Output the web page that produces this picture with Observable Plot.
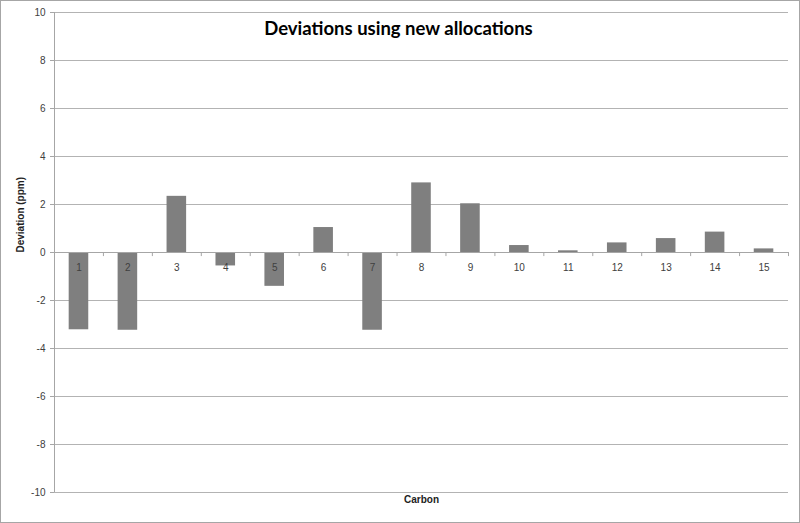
<!DOCTYPE html>
<html>
<head>
<meta charset="utf-8">
<script src="https://cdn.jsdelivr.net/npm/d3@7"></script>
<script src="https://cdn.jsdelivr.net/npm/@observablehq/plot@0.6"></script>
<style>
  html, body { margin: 0; padding: 0; background: #fff; }
  svg { display: block; outline: 1px solid #a6a6a6; outline-offset: -1px; }
</style>
</head>
<body>
<div id="chart"></div>
<script>
const carbons = ["1","2","3","4","5","6","7","8","9","10","11","12","13","14","15"];
const deviations = [-3.22, -3.24, 2.34, -0.56, -1.41, 1.04, -3.24, 2.90, 2.03, 0.29, 0.07, 0.40, 0.58, 0.85, 0.15];
const yTicks = [-10, -8, -6, -4, -2, 0, 2, 4, 6, 8, 10];
const title = "Deviations using new allocations";
const xTitle = "Carbon";
const yTitle = "Deviation (ppm)";

const data = carbons.map((c, i) => ({carbon: c, value: deviations[i]}));

const W = 800, H = 523;
const mL = 54, mR = 12, mT = 12, mB = 31;
const step = (W - mL - mR) / carbons.length;
const font = "'Liberation Sans', Arial, sans-serif";

const chart = Plot.plot({
  width: W,
  height: H,
  marginLeft: mL,
  marginRight: mR,
  marginTop: mT,
  marginBottom: mB,
  style: {fontFamily: font, fontSize: "10px", color: "#404040", background: "#fff"},
  x: {type: "band", domain: carbons, padding: 0, round: false, axis: null},
  y: {domain: [-10, 10], axis: null},
  marks: [
    Plot.ruleY(yTicks, {stroke: "#b3b3b3", strokeWidth: 1}),
    Plot.axisY({ticks: yTicks, tickFormat: d => String(d), tickSize: 4, tickPadding: 5, stroke: "#a6a6a6", strokeOpacity: 1, fill: "#404040", fontSize: 10, label: null}),
    Plot.ruleX(carbons.slice(0, 1), {x: d => d, dx: -step / 2, y1: -10, y2: 10, stroke: "#a6a6a6"}),
    Plot.barY(data, {x: "carbon", y: "value", fill: "#7f7f7f", insetLeft: step * 0.3, insetRight: step * 0.3}),
    Plot.ruleY([0], {stroke: "#a6a6a6"}),
    Plot.ruleX(carbons, {x: d => d, dx: -step / 2, y1: 0, y2: -0.17, stroke: "#a6a6a6"}),
    Plot.ruleX(carbons.slice(-1), {x: d => d, dx: step / 2, y1: 0, y2: -0.17, stroke: "#a6a6a6"}),
    Plot.text(data, {x: "carbon", y: 0, text: "carbon", dy: 15, fill: "#404040", fontSize: 10}),
    Plot.text([title], {frameAnchor: "top", dx: -23, dy: 9, fontWeight: "bold", fontSize: 18.5, fill: "#000", fontFamily: "Lato, sans-serif"}),
    Plot.text([xTitle], {frameAnchor: "bottom", dy: 10, fontWeight: "bold", fontSize: 10, fill: "#222"}),
    Plot.text([yTitle], {frameAnchor: "left", dx: -34, rotate: -90, fontWeight: "bold", fontSize: 10, fill: "#222"})
  ]
});
document.getElementById("chart").appendChild(chart);
</script>
</body>
</html>
